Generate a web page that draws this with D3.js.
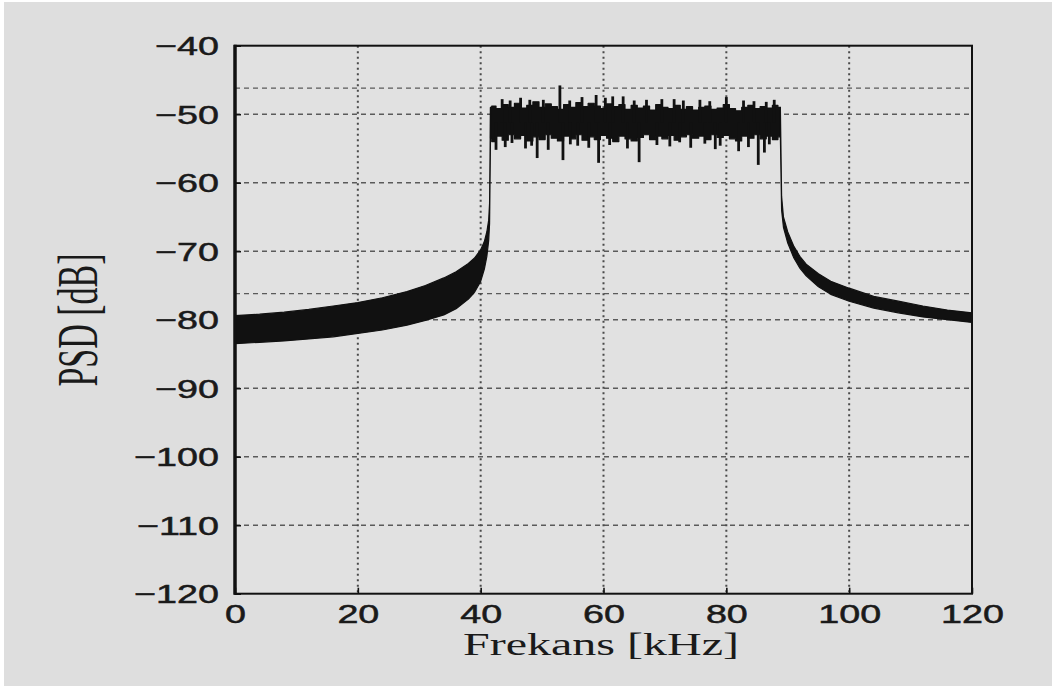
<!DOCTYPE html>
<html>
<head>
<meta charset="utf-8">
<script src="https://cdn.jsdelivr.net/npm/d3@7"></script>
<style>
  html, body { margin: 0; padding: 0; background: #fff; }
  svg { display: block; }
</style>
</head>
<body>
<div class="chart"></div>
<script>
// axis ticks
const xTicks = [0, 20, 40, 60, 80, 100, 120];
const yTicks = [-40, -50, -60, -70, -80, -90, -100, -110, -120];
// extra dashed reference lines seen in the picture
const yExtraLines = [-46.2, -76.2];

// trace envelope: frequency (kHz), upper and lower edge of the noisy band (dB)
const freq = [
  0, 4, 8, 12, 16, 20, 24, 28, 31, 34, 36, 38, 39, 40, 40.6, 41, 41.3, 41.45,
  41.6, 42, 43, 44, 45, 46, 47, 48, 49, 50, 51, 52, 53, 54, 55, 56, 57, 58, 59,
  60, 61, 62, 63, 64, 65, 66, 67, 68, 69, 70, 71, 72, 73, 74, 75, 76, 77, 78,
  79, 80, 81, 82, 83, 84, 85, 86, 87, 88, 88.8,
  89.0, 89.3, 90, 91, 92, 93, 95, 97, 100, 104, 108, 112, 116, 120
];
const upper = [
  -79.4, -79.2, -78.9, -78.5, -78.0, -77.5, -76.8, -75.9, -75.0, -73.9, -73.0, -71.8, -71.0, -69.8, -68.6, -67.2, -65.5, -63.0,
  -49.0, -48.8, -49.2, -48.6, -49.0, -48.4, -49.1, -48.7, -48.2, -49.0, -48.5, -48.9, -49.3, -48.6, -49.0, -48.3, -48.9, -48.4, -48.8,
  -49.2, -48.5, -48.9, -48.6, -49.3, -48.7, -49.1, -48.8, -49.4, -48.6, -49.0, -49.2, -48.7, -49.3, -48.9, -49.4, -49.0, -48.8, -49.3,
  -49.1, -48.6, -49.2, -49.5, -49.0, -48.7, -49.2, -48.9, -49.1, -48.7, -49.0,
  -62.0, -65.0, -67.2, -69.3, -70.8, -71.9, -73.3, -74.4, -75.4, -76.6, -77.3, -78.0, -78.6, -79.0
];
const lower = [
  -83.5, -83.3, -83.1, -82.8, -82.5, -82.0, -81.5, -80.8, -80.1, -79.3, -78.4, -77.0, -76.0, -74.4, -72.6, -70.8, -68.5, -66.0,
  -53.5, -54.0, -53.2, -53.8, -53.0, -53.6, -53.1, -53.9, -53.3, -53.7, -53.0, -53.5, -53.9, -53.2, -53.6, -53.0, -53.8, -53.3, -53.7,
  -53.1, -53.5, -54.0, -53.2, -53.6, -53.9, -53.4, -53.0, -53.7, -53.2, -53.6, -53.1, -53.8, -53.3, -53.0, -53.5, -53.2, -53.7, -53.0,
  -53.4, -53.1, -53.6, -53.9, -53.2, -53.5, -53.0, -53.6, -53.2, -53.7, -53.3,
  -64.0, -66.5, -68.8, -71.0, -72.5, -73.6, -75.2, -76.3, -77.3, -78.3, -79.0, -79.6, -80.0, -80.4
];
// pass band limits (kHz)
const bandStart = 41.6, bandEnd = 88.8;

// single noise spikes sticking out of the band
const spikeFreq = [
  42.5, 44.0, 45.1, 47.3, 48.3, 49.2, 51.0, 53.4, 54.6, 55.8, 57.6, 59.2, 61.0, 63.9, 65.8, 68.7, 70.8,
  72.4, 74.2, 76.5, 78.2, 79.0, 82.0, 83.6, 85.2, 86.2, 87.0,
  43.5, 44.8, 46.5, 48.0, 50.2, 52.9, 54.5, 56.5, 58.8, 60.3, 61.5, 63.2, 65.0, 67.0, 69.5, 71.5,
  73.0, 75.7, 77.3, 80.0, 82.8, 84.5, 86.5, 87.8
];
const spikeVal = [
  -55.2, -54.8, -54.2, -55.0, -54.6, -56.4, -55.2, -56.7, -54.4, -54.6, -54.9, -57.1, -54.5, -55.0, -57.0, -54.5, -54.7,
  -54.1, -54.9, -54.3, -55.1, -54.6, -55.4, -54.8, -57.4, -55.6, -54.4,
  -47.8, -48.0, -47.6, -47.9, -47.9, -45.8, -48.0, -47.5, -47.2, -47.6, -47.4, -47.4, -48.0, -47.9, -47.8, -47.8,
  -48.0, -47.9, -48.1, -47.5, -48.0, -48.1, -48.2, -47.9
];

const W = 1052, H = 686;
const mLeft = 235, mRight = 972, mTop = 45.7, mBottom = 593.7;
const stretch = 1.45;

const svg = d3.select('.chart')
  .append('svg')
  .attr('width', W)
  .attr('height', H);

// page background (thin white frame on top/left like the scan)
svg.append('rect')
  .attr('x', 4).attr('y', 2)
  .attr('width', W - 4).attr('height', H - 2)
  .attr('fill', '#dedede');

svg.append('rect')
  .attr('x', mLeft).attr('y', mTop)
  .attr('width', mRight - mLeft).attr('height', mBottom - mTop)
  .attr('fill', '#e1e1e1');

const x = d3.scaleLinear().domain([0, 120]).range([mLeft, mRight]);
const y = d3.scaleLinear().domain([-120, -40]).range([mBottom, mTop]);

// grid
const grid = svg.append('g');
grid.selectAll('.hgrid')
  .data(yTicks.filter(d => d > -120 && d < -40).concat(yExtraLines))
  .enter().append('line')
  .attr('x1', mLeft).attr('x2', mRight)
  .attr('y1', d => y(d)).attr('y2', d => y(d))
  .attr('stroke', '#5a5a5a')
  .attr('stroke-width', 1.4)
  .attr('stroke-dasharray', '5,4');

grid.selectAll('.vgrid')
  .data(xTicks.filter(d => d > 0 && d < 120))
  .enter().append('line')
  .attr('x1', d => x(d)).attr('x2', d => x(d))
  .attr('y1', mTop).attr('y2', mBottom)
  .attr('stroke', '#4a4a4a')
  .attr('stroke-width', 2)
  .attr('stroke-dasharray', '2,3.5');

// trace: skirts drawn linear, pass band drawn as blocky steps
const rows = freq.map((f, i) => ({ f: f, hi: upper[i], lo: lower[i] }));
const parts = [
  { data: rows.filter(d => d.f <= bandStart), curve: d3.curveLinear },
  { data: rows.filter(d => d.f >= bandStart && d.f <= bandEnd), curve: d3.curveStep },
  { data: rows.filter(d => d.f >= bandEnd), curve: d3.curveLinear }
];

const trace = svg.append('g');
parts.forEach(p => {
  trace.append('path')
    .datum(p.data)
    .attr('d', d3.area()
      .curve(p.curve)
      .x(d => x(d.f))
      .y0(d => y(d.lo))
      .y1(d => y(d.hi)))
    .attr('fill', '#111')
    .attr('stroke', '#111')
    .attr('stroke-width', 1.2)
    .attr('stroke-linejoin', 'round');
});

trace.selectAll('.spike')
  .data(spikeFreq.map((f, i) => ({ f: f, v: spikeVal[i] })))
  .enter().append('line')
  .attr('x1', d => x(d.f)).attr('x2', d => x(d.f))
  .attr('y1', y(-51.2)).attr('y2', d => y(d.v))
  .attr('stroke', '#111')
  .attr('stroke-width', 2.8);

// axes
const xAxis = svg.append('g')
  .attr('transform', `translate(0,${mBottom})`)
  .call(d3.axisBottom(x).tickValues(xTicks).tickSize(-6).tickSizeOuter(0).tickFormat(d3.format('d')));

const yAxis = svg.append('g')
  .attr('transform', `translate(${mLeft},0)`)
  .call(d3.axisLeft(y).tickValues(yTicks).tickSize(-6).tickSizeOuter(0)
    .tickFormat(d => d < 0 ? '\u2212' + Math.abs(d) : d));

[xAxis, yAxis].forEach(a => {
  a.select('.domain').remove();
  a.selectAll('.tick line').attr('stroke', '#111').attr('stroke-width', 1.6);
  a.selectAll('.tick text')
    .attr('fill', '#1a1a1a')
    .attr('stroke', '#1a1a1a')
    .attr('stroke-width', 0.5)
    .style('font-family', '"Liberation Sans", Arial, sans-serif')
    .style('font-size', '26px');
});

xAxis.selectAll('.tick text')
  .attr('y', 0).attr('dy', 0)
  .attr('transform', `translate(0,29) scale(${stretch},1)`);

yAxis.selectAll('.tick text')
  .attr('x', 0).attr('dy', '0.35em')
  .attr('transform', `translate(-16,0) scale(${stretch},1)`);

// frame
svg.append('rect')
  .attr('x', mLeft).attr('y', mTop)
  .attr('width', mRight - mLeft).attr('height', mBottom - mTop)
  .attr('fill', 'none')
  .attr('stroke', '#111')
  .attr('stroke-width', 2);

svg.append('line')
  .attr('x1', mLeft).attr('x2', mLeft)
  .attr('y1', mTop - 1).attr('y2', mBottom + 1)
  .attr('stroke', '#111')
  .attr('stroke-width', 3.5);

// axis titles
svg.append('text')
  .attr('transform', `translate(601,655) scale(1.55,1)`)
  .attr('text-anchor', 'middle')
  .attr('fill', '#1a1a1a')
  .style('font-family', '"Liberation Serif", "Times New Roman", serif')
  .style('font-size', '31px')
  .text('Frekans [kHz]');

svg.append('text')
  .attr('transform', `translate(97,320) scale(1.7,1) rotate(-90)`)
  .attr('text-anchor', 'middle')
  .attr('fill', '#1a1a1a')
  .style('font-family', '"Liberation Serif", "Times New Roman", serif')
  .style('font-size', '34px')
  .text('PSD [dB]');
</script>
</body>
</html>
